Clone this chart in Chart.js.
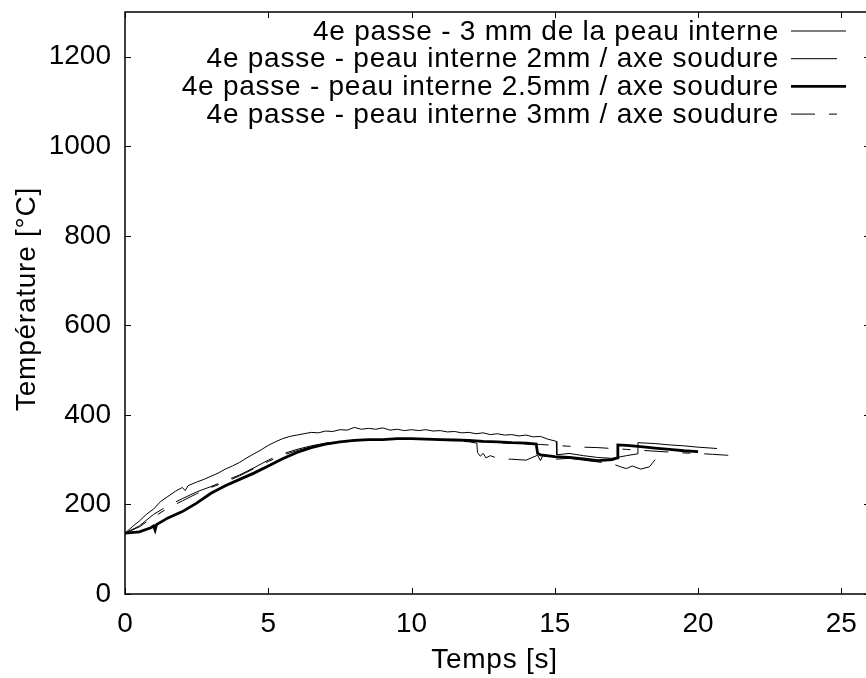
<!DOCTYPE html>
<html>
<head>
<meta charset="utf-8">
<script src="https://cdn.jsdelivr.net/npm/chart.js@4.4.1/dist/chart.umd.min.js"></script>
<style>
    html, body { margin: 0; padding: 0; background: #fff; overflow: hidden; }
    #wrap { width: 866px; height: 678px; overflow: hidden; }
</style>
</head>
<body>
<div id="wrap"><canvas id="chart" width="876" height="678"></canvas></div>
<script>
// 4e passe - 3 mm de la peau interne
const time1 = [0, 0.25, 0.5, 0.75, 1, 1.25, 1.5, 1.75, 2, 2.1, 2.2, 2.5, 2.75, 3, 3.25, 3.5, 3.75, 4, 4.25, 4.5, 4.75, 5, 5.25, 5.5, 5.75, 6, 6.25, 6.5, 6.75, 7, 7.25, 7.5, 7.75, 8, 8.25, 8.5, 8.75, 9, 9.25, 9.5, 9.75, 10, 10.25, 10.5, 10.75, 11, 11.25, 11.5, 11.75, 12, 12.25, 12.5, 12.75, 13, 13.25, 13.5, 13.75, 14, 14.25, 14.5, 14.75, 15.05, 15.07, 15.5, 16, 16.5, 17, 17.5, 17.88, 17.9, 18.5, 19, 19.5, 20, 20.66];
const temp1 = [136, 150, 163, 178, 190, 207, 218, 229, 238, 231, 242, 250, 256, 263, 270, 279, 286, 294, 304, 313, 322, 332, 340, 347, 352, 355, 358, 361, 360, 364, 363, 367, 366, 372, 368, 370, 368, 371, 366, 368, 365, 367, 365, 367, 364, 365, 362, 363, 360, 361, 358, 360, 356, 358, 355, 356, 353, 355, 351, 352, 346, 341, 311, 314, 309, 305, 303, 309, 313, 338, 336, 333, 331, 328, 325];

// 4e passe - peau interne 2mm / axe soudure
const time2 = [0, 0.5, 1, 1.5, 2, 2.5, 3, 3.5, 4, 4.5, 5, 5.5, 6, 6.5, 7, 7.5, 8, 8.5, 9, 9.5, 10, 10.5, 11, 11.5, 12, 12.28, 12.3, 12.4, 12.5, 12.6, 12.75, 13, 13.5, 14, 14.4, 14.5, 14.6, 14.75, 15, 15.5, 16, 16.5, 17, 17.3, 17.5, 17.7, 18, 18.3, 18.5];
const temp2 = [136, 152, 178, 197, 213, 228, 240, 253, 266, 282, 299, 313, 323, 331, 337, 340, 343, 345, 345, 347, 346, 346, 344, 342, 340, 337, 316, 308, 314, 304, 309, 303, 301, 299, 310, 298, 312, 296, 301, 303, 299, 295, 291, 284, 280, 286, 279, 284, 300];

// 4e passe - peau interne 2.5mm / axe soudure
const time3 = [0, 0.5, 0.9, 1, 1.05, 1.1, 1.5, 2, 2.5, 3, 3.5, 4, 4.5, 5, 5.5, 6, 6.5, 7, 7.5, 8, 8.5, 9, 9.5, 10, 10.5, 11, 11.5, 12, 12.5, 13, 13.5, 14, 14.35, 14.4, 14.5, 15, 15.5, 16, 16.5, 17, 17.18, 17.2, 17.5, 18, 18.5, 19, 19.5, 20];
const temp3 = [136, 139, 148, 152, 143, 155, 170, 184, 203, 225, 242, 256, 270, 286, 302, 316, 327, 335, 340, 343, 345, 345, 347, 347, 346, 345, 344, 343, 341, 340, 338, 337, 335, 314, 311, 307, 305, 302, 298, 300, 304, 333, 332, 329, 326, 323, 320, 318];

// 4e passe - peau interne 3mm / axe soudure
const time4 = [0, 0.5, 1, 1.5, 2, 2.5, 3, 3.5, 4, 4.5, 5, 5.5, 6, 6.5, 7, 7.5, 8, 8.5, 9, 9.5, 10, 10.5, 11, 11.5, 12, 12.5, 13, 13.5, 14, 14.5, 15, 15.5, 16, 16.5, 17, 17.5, 18, 18.5, 19, 19.5, 20, 20.5, 21, 21.3];
const temp4 = [136, 150, 172, 192, 208, 224, 238, 250, 264, 280, 296, 310, 320, 329, 335, 339, 342, 344, 345, 345, 346, 345, 344, 343, 341, 340, 338, 336, 335, 334, 332, 330, 328, 327, 325, 323, 321, 319, 317, 315, 314, 312, 310, 308];

const labels = [
    "4e passe - 3 mm de la peau interne",
    "4e passe - peau interne 2mm / axe soudure",
    "4e passe - peau interne 2.5mm / axe soudure",
    "4e passe - peau interne 3mm / axe soudure"
];
const xTicks = [0, 5, 10, 15, 20, 25];
const yTicks = [0, 200, 400, 600, 800, 1000, 1200];
const xTitle = 'Temps [s]';
const yTitle = 'Température [°C]';

const FONT = "'Liberation Sans', Arial, Helvetica, sans-serif";

function pts(t, v) {
    return t.map((x, i) => ({ x: x, y: v[i] }));
}

// frame with inward ticks on all four sides, like gnuplot
const frame = {
    id: 'frame',
    afterDatasetsDraw(chart) {
        const ctx = chart.ctx;
        const a = chart.chartArea;
        const x = chart.scales.x, y = chart.scales.y;
        ctx.save();
        ctx.strokeStyle = '#000';
        ctx.lineWidth = 1.5;
        ctx.strokeRect(a.left, a.top, a.right - a.left, a.bottom - a.top);
        ctx.lineWidth = 1;
        ctx.beginPath();
        x.ticks.forEach(t => {
            const px = Math.round(x.getPixelForValue(t.value)) + 0.5;
            ctx.moveTo(px, a.bottom); ctx.lineTo(px, a.bottom - 6);
            ctx.moveTo(px, a.top); ctx.lineTo(px, a.top + 6);
        });
        y.ticks.forEach(t => {
            const py = Math.round(y.getPixelForValue(t.value)) + 0.5;
            ctx.moveTo(a.left, py); ctx.lineTo(a.left + 6, py);
            ctx.moveTo(a.right, py); ctx.lineTo(a.right - 6, py);
        });
        ctx.stroke();
        ctx.restore();
    }
};

// axis titles and legend, drawn with a bit of letter spacing like the original
const texts = {
    id: 'texts',
    afterDraw(chart) {
        const ctx = chart.ctx;
        const a = chart.chartArea;
        ctx.save();
        ctx.font = '28px ' + FONT;
        ctx.fillStyle = '#000';
        ctx.letterSpacing = '0.75px';

        ctx.textAlign = 'center';
        ctx.textBaseline = 'alphabetic';
        ctx.fillText(xTitle, (a.left + a.right) / 2 - 3, 668);

        ctx.save();
        ctx.translate(35, (a.top + a.bottom) / 2 - 4);
        ctx.rotate(-Math.PI / 2);
        ctx.fillText(yTitle, 0, 0);
        ctx.restore();

        ctx.textAlign = 'right';
        ctx.textBaseline = 'middle';
        chart.data.datasets.forEach((ds, i) => {
            const yy = 31 + i * 27.7;
            ctx.fillText(ds.label, 779, yy + 1);
            ctx.beginPath();
            ctx.strokeStyle = ds.borderColor;
            ctx.lineWidth = ds.borderWidth;
            ctx.setLineDash(ds.borderDash || []);
            ctx.moveTo(791, yy);
            ctx.lineTo(846, yy);
            ctx.stroke();
        });
        ctx.restore();
    }
};

var ctx = document.getElementById('chart').getContext('2d');
var myChart = new Chart(ctx, {
    type: 'line',
    data: {
        datasets: [
            {
                label: labels[0],
                data: pts(time1, temp1),
                borderColor: '#000',
                borderWidth: 1,
            },
            {
                label: labels[1],
                data: pts(time2, temp2),
                borderColor: '#000',
                borderWidth: 1,
                borderDash: [46, 14],
            },
            {
                label: labels[2],
                data: pts(time3, temp3),
                borderColor: '#000',
                borderWidth: 2.8,
            },
            {
                label: labels[3],
                data: pts(time4, temp4),
                borderColor: '#000',
                borderWidth: 1,
                borderDash: [24, 14, 8, 14],
            },
        ]
    },
    options: {
        responsive: false,
        animation: false,
        events: [],
        elements: {
            point: { radius: 0 },
            line: { tension: 0, fill: false },
        },
        layout: {
            padding: { top: 12, right: 6, left: 0, bottom: 0 }
        },
        scales: {
            x: {
                type: 'linear',
                min: 0,
                max: 26,
                afterFit: (s) => { s.height = 84; s.paddingLeft = 0; s.paddingRight = 0; },
                afterBuildTicks: (s) => { s.ticks = xTicks.map(v => ({ value: v })); },
                ticks: {
                    color: '#000',
                    padding: 13,
                    font: { size: 28, family: FONT },
                    callback: (v) => String(v),
                },
                grid: { display: false, drawTicks: false },
                border: { display: false },
            },
            y: {
                min: 0,
                max: 1300,
                afterFit: (s) => { s.width = 125; s.paddingTop = 0; s.paddingBottom = 0; },
                afterBuildTicks: (s) => { s.ticks = yTicks.map(v => ({ value: v })); },
                ticks: {
                    color: '#000',
                    padding: 14,
                    font: { size: 28, family: FONT },
                    callback: (v) => String(v),
                },
                grid: { display: false, drawTicks: false },
                border: { display: false },
            },
        },
        plugins: {
            legend: { display: false },
            tooltip: { enabled: false },
        }
    },
    plugins: [frame, texts],
});
</script>
</body>
</html>
